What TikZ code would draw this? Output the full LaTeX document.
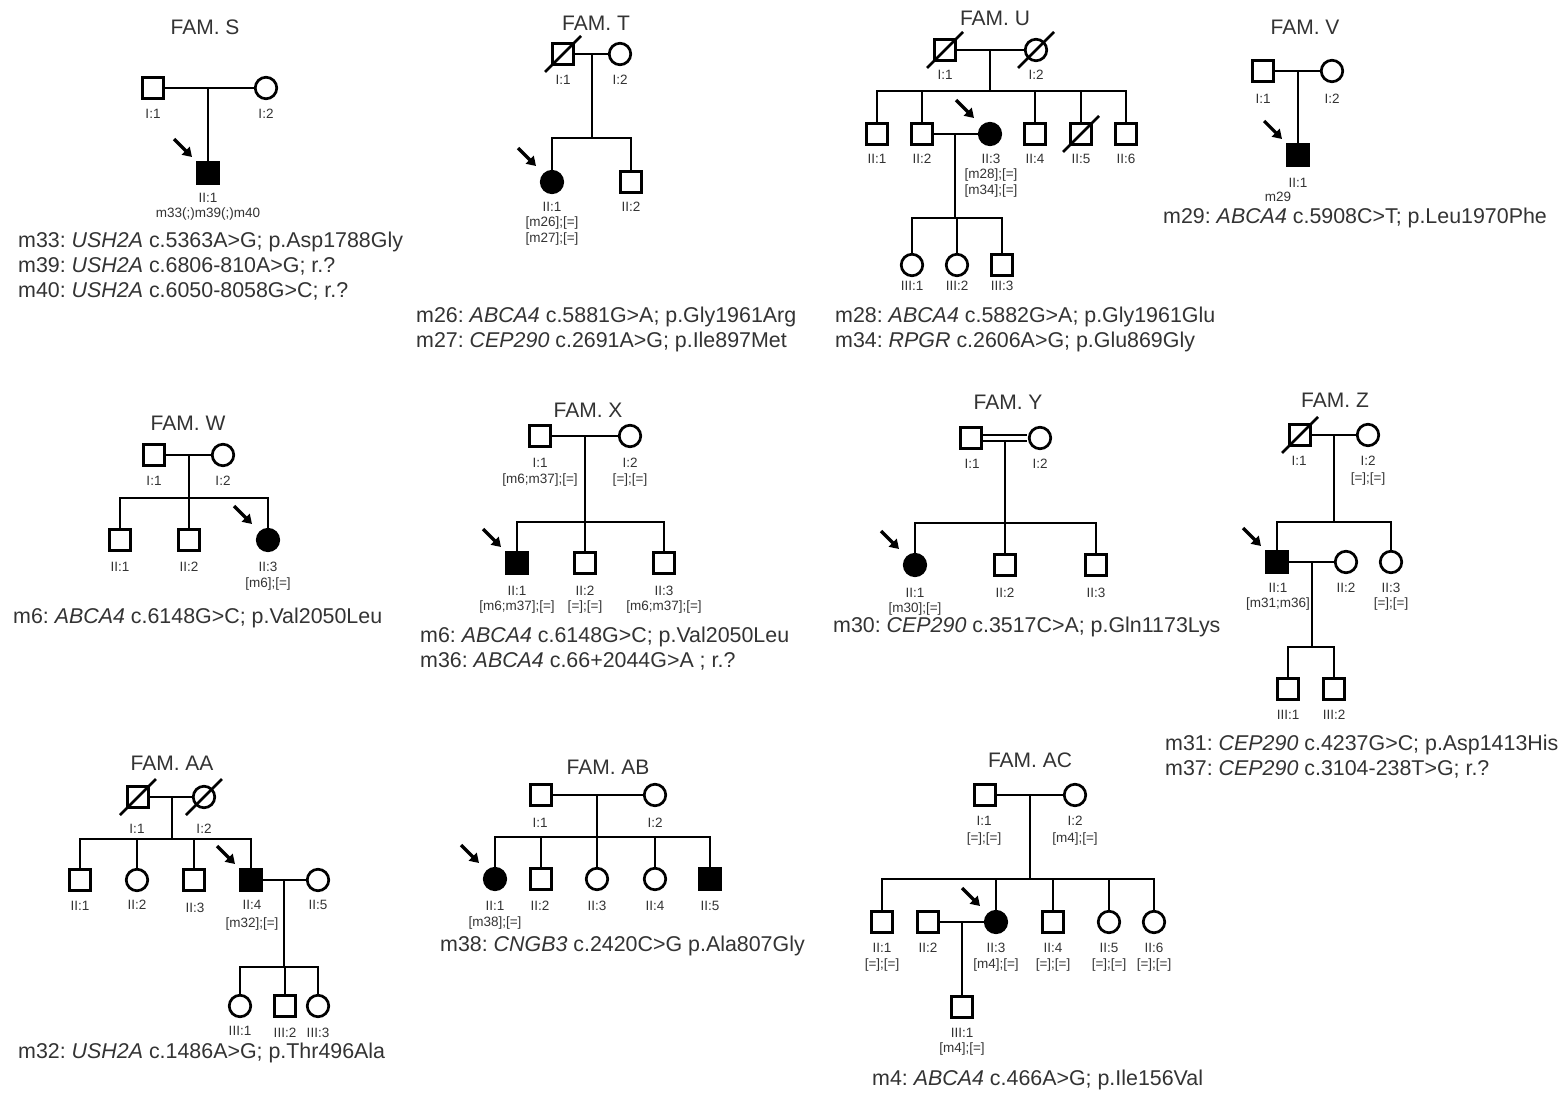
\documentclass[tikz,border=0pt]{standalone}
\usepackage{fontspec}
\setmainfont{Liberation Sans}
\usetikzlibrary{arrows.meta}
\definecolor{txt}{HTML}{333333}
\frenchspacing
\tikzset{
  ln/.style={line width=2.7pt, line join=miter},
  male/.style={draw, line width=2.7pt, rectangle, minimum size=21.5pt, inner sep=0pt, fill=white},
  female/.style={draw, line width=2.7pt, circle, minimum size=21.5pt, inner sep=0pt, fill=white},
  aff/.style={fill=black},
  lab/.style={font=\fontsize{13.5}{15}\selectfont, text=txt, inner sep=0pt, text height=9.5pt, text depth=2.5pt, yshift=-1.5pt},
  mut/.style={font=\fontsize{21.4}{25}\selectfont, text=txt, anchor=west, inner sep=0pt, text height=15pt, text depth=4pt},
  ttl/.style={font=\fontsize{21}{25}\selectfont, text=txt, inner sep=0pt, text height=15pt, text depth=0pt},
  parrow/.style={line width=3.2pt, -{Triangle[length=9pt,width=11pt]}},
}
\newcommand\lb[4]{\node[lab] (#1) at (#2,#3) {#4};}
\newcommand\mt[4]{\node[mut] (#1) at (#2,#3) {#4};}
\newcommand\dsl[1]{\draw[ln] ([shift={(-18,18)}]#1.center) -- ([shift={(18,-18)}]#1.center);}
\newcommand\prb[1]{\draw[parrow] ([shift={(-34,-34)}]#1.center) -- ([shift={(-16,-16)}]#1.center);}
\begin{document}
\begin{tikzpicture}[x=1pt,y=-1pt]
\useasboundingbox (0,0) rectangle (1560,1095);
\fill[white] (0,0) rectangle (1560,1095);

% ================= FAM. S
\node[ttl] (St) at (205,27) {FAM. S};
\node[male] (S11) at (153,88) {};
\node[female] (S12) at (266,88) {};
\coordinate (Sm) at (208,88);
\node[male,aff] (S21) at (208,173) {};
\draw[ln] (S11) -- (S12);
\draw[ln] (Sm) -- (S21);
\prb{S21}
\lb{S11l}{153}{113}{I:1}
\lb{S12l}{266}{113}{I:2}
\lb{S21l}{208}{197}{II:1}
\lb{S21g}{208}{212}{m33(;)m39(;)m40}
\mt{Sm1}{18}{242}{m33: \textit{USH2A} c.5363A>G; p.Asp1788Gly}
\mt{Sm2}{18}{267}{m39: \textit{USH2A} c.6806-810A>G; r.?}
\mt{Sm3}{18}{292}{m40: \textit{USH2A} c.6050-8058G>C; r.?}

% ================= FAM. T
\node[ttl] (Tt) at (596,23) {FAM. T};
\node[male] (T11) at (563,54) {};
\node[female] (T12) at (620,54) {};
\coordinate (Tm) at (592,54);
\coordinate (Ts) at (592,138);
\node[female,aff] (T21) at (552,182) {};
\node[male] (T22) at (631,182) {};
\draw[ln] (T11) -- (T12);
\dsl{T11}
\draw[ln] (Tm) -- (Ts);
\draw[ln] (T21) -- (T21|-Ts) -- (T22|-Ts) -- (T22);
\prb{T21}
\lb{T11l}{563}{79}{I:1}
\lb{T12l}{620}{79}{I:2}
\lb{T21l}{552}{206}{II:1}
\lb{T21g}{552}{221}{[m26];[=]}
\lb{T21h}{552}{237}{[m27];[=]}
\lb{T22l}{631}{206}{II:2}
\mt{Tm1}{416}{317}{m26: \textit{ABCA4} c.5881G>A; p.Gly1961Arg}
\mt{Tm2}{416}{342}{m27: \textit{CEP290} c.2691A>G; p.Ile897Met}

% ================= FAM. U
\node[ttl] (Ut) at (995,18) {FAM. U};
\node[male] (U11) at (945,50) {};
\node[female] (U12) at (1036,50) {};
\coordinate (Um) at (990,50);
\coordinate (Us) at (990,91);
\node[male] (U21) at (877,134) {};
\node[male] (U22) at (922,134) {};
\node[female,aff] (U23) at (990,134) {};
\node[male] (U24) at (1035,134) {};
\node[male] (U25) at (1081,134) {};
\node[male] (U26) at (1126,134) {};
\coordinate (Um2) at (955,134);
\coordinate (Us2) at (955,218);
\node[female] (U31) at (912,265) {};
\node[female] (U32) at (957,265) {};
\node[male] (U33) at (1002,265) {};
\draw[ln] (U11) -- (U12);
\dsl{U11}
\dsl{U12}
\draw[ln] (Um) -- (Us);
\draw[ln] (U21) -- (U21|-Us) -- (U26|-Us) -- (U26);
\draw[ln] (U22|-Us) -- (U22);
\draw[ln] (U24|-Us) -- (U24);
\draw[ln] (U25|-Us) -- (U25);
\dsl{U25}
\draw[ln] (U22) -- (U23);
\draw[ln] (Um2) -- (Us2);
\draw[ln] (U31) -- (U31|-Us2) -- (U33|-Us2) -- (U33);
\draw[ln] (U32|-Us2) -- (U32);
\prb{U23}
\lb{U11l}{945}{74}{I:1}
\lb{U12l}{1036}{74}{I:2}
\lb{U21l}{877}{158}{II:1}
\lb{U22l}{922}{158}{II:2}
\lb{U23l}{991}{158}{II:3}
\lb{U23g}{991}{173}{[m28];[=]}
\lb{U23h}{991}{189}{[m34];[=]}
\lb{U24l}{1035}{158}{II:4}
\lb{U25l}{1081}{158}{II:5}
\lb{U26l}{1126}{158}{II:6}
\lb{U31l}{912}{285}{III:1}
\lb{U32l}{957}{285}{III:2}
\lb{U33l}{1002}{285}{III:3}
\mt{Um1}{835}{317}{m28: \textit{ABCA4} c.5882G>A; p.Gly1961Glu}
\mt{Um3}{835}{342}{m34: \textit{RPGR} c.2606A>G; p.Glu869Gly}

% ================= FAM. V
\node[ttl] (Vt) at (1305,27) {FAM. V};
\node[male] (V11) at (1263,71) {};
\node[female] (V12) at (1332,71) {};
\coordinate (Vm) at (1298,71);
\node[male,aff] (V21) at (1298,155) {};
\draw[ln] (V11) -- (V12);
\draw[ln] (Vm) -- (V21);
\prb{V21}
\lb{V11l}{1263}{98}{I:1}
\lb{V12l}{1332}{98}{I:2}
\lb{V21l}{1298}{182}{II:1}
\lb{V21g}{1278}{196}{m29}
\mt{Vm1}{1163}{218}{m29: \textit{ABCA4} c.5908C>T; p.Leu1970Phe}

% ================= FAM. W
\node[ttl] (Wt) at (188,423) {FAM. W};
\node[male] (W11) at (154,455) {};
\node[female] (W12) at (223,455) {};
\coordinate (Wm) at (189,455);
\coordinate (Ws) at (189,498);
\node[male] (W21) at (120,540) {};
\node[male] (W22) at (189,540) {};
\node[female,aff] (W23) at (268,540) {};
\draw[ln] (W11) -- (W12);
\draw[ln] (Wm) -- (Ws);
\draw[ln] (W21) -- (W21|-Ws) -- (W23|-Ws) -- (W23);
\draw[ln] (W22|-Ws) -- (W22);
\prb{W23}
\lb{W11l}{154}{480}{I:1}
\lb{W12l}{223}{480}{I:2}
\lb{W21l}{120}{566}{II:1}
\lb{W22l}{189}{566}{II:2}
\lb{W23l}{268}{566}{II:3}
\lb{W23g}{268}{582}{[m6];[=]}
\mt{Wm1}{13}{618}{m6: \textit{ABCA4} c.6148G>C; p.Val2050Leu}

% ================= FAM. X
\node[ttl] (Xt) at (588,410) {FAM. X};
\node[male] (X11) at (540,436) {};
\node[female] (X12) at (630,436) {};
\coordinate (Xm) at (585,436);
\coordinate (Xs) at (585,522);
\node[male,aff] (X21) at (517,563) {};
\node[male] (X22) at (585,563) {};
\node[male] (X23) at (664,563) {};
\draw[ln] (X11) -- (X12);
\draw[ln] (Xm) -- (Xs);
\draw[ln] (X21) -- (X21|-Xs) -- (X23|-Xs) -- (X23);
\draw[ln] (X22|-Xs) -- (X22);
\prb{X21}
\lb{X11l}{540}{462}{I:1}
\lb{X11g}{540}{478}{[m6;m37];[=]}
\lb{X12l}{630}{462}{I:2}
\lb{X12g}{630}{478}{[=];[=]}
\lb{X21l}{517}{590}{II:1}
\lb{X21g}{517}{605}{[m6;m37];[=]}
\lb{X22l}{585}{590}{II:2}
\lb{X22g}{585}{605}{[=];[=]}
\lb{X23l}{664}{590}{II:3}
\lb{X23g}{664}{605}{[m6;m37];[=]}
\mt{Xm1}{420}{637}{m6: \textit{ABCA4} c.6148G>C; p.Val2050Leu}
\mt{Xm2}{420}{662}{m36: \textit{ABCA4} c.66+2044G>A ; r.?}

% ================= FAM. Y
\node[ttl] (Yt) at (1008,402) {FAM. Y};
\node[male] (Y11) at (971,438) {};
\node[female] (Y12) at (1040,438) {};
\coordinate (Ym) at (1005,440.5);
\coordinate (Ys) at (1005,523);
\node[female,aff] (Y21) at (915,565) {};
\node[male] (Y22) at (1005,565) {};
\node[male] (Y23) at (1096,565) {};
\draw[line width=2pt] ([yshift=2.6pt]Y11.east) -- ([yshift=2.6pt,xshift=-0.6pt]Y12.west);
\draw[line width=2pt] ([yshift=-2.6pt]Y11.east) -- ([yshift=-2.6pt,xshift=-0.6pt]Y12.west);
\draw[ln] (Ym) -- (Ys);
\draw[ln] (Y21) -- (Y21|-Ys) -- (Y23|-Ys) -- (Y23);
\draw[ln] (Y22|-Ys) -- (Y22);
\prb{Y21}
\lb{Y11l}{972}{463}{I:1}
\lb{Y12l}{1040}{463}{I:2}
\lb{Y21l}{915}{592}{II:1}
\lb{Y21g}{915}{607}{[m30];[=]}
\lb{Y22l}{1005}{592}{II:2}
\lb{Y23l}{1096}{592}{II:3}
\mt{Ym1}{833}{627}{m30: \textit{CEP290} c.3517C>A; p.Gln1173Lys}

% ================= FAM. Z
\node[ttl] (Zt) at (1335,400) {FAM. Z};
\node[male] (Z11) at (1300,435) {};
\node[female] (Z12) at (1368,435) {};
\coordinate (Zm) at (1334,435);
\coordinate (Zs) at (1334,522);
\node[male,aff] (Z21) at (1277,562) {};
\node[female] (Z22) at (1346,562) {};
\node[female] (Z23) at (1391,562) {};
\coordinate (Zm2) at (1312,562);
\coordinate (Zs2) at (1312,647);
\node[male] (Z31) at (1288,689) {};
\node[male] (Z32) at (1334,689) {};
\draw[ln] (Z11) -- (Z12);
\dsl{Z11}
\draw[ln] (Zm) -- (Zs);
\draw[ln] (Z21) -- (Z21|-Zs) -- (Z23|-Zs) -- (Z23);
\draw[ln] (Z21) -- (Z22);
\draw[ln] (Zm2) -- (Zs2);
\draw[ln] (Z31) -- (Z31|-Zs2) -- (Z32|-Zs2) -- (Z32);
\prb{Z21}
\lb{Z11l}{1299}{460}{I:1}
\lb{Z12l}{1368}{460}{I:2}
\lb{Z12g}{1368}{477}{[=];[=]}
\lb{Z21l}{1278}{587}{II:1}
\lb{Z21g}{1278}{602}{[m31;m36]}
\lb{Z22l}{1346}{587}{II:2}
\lb{Z23l}{1391}{587}{II:3}
\lb{Z23g}{1391}{602}{[=];[=]}
\lb{Z31l}{1288}{714}{III:1}
\lb{Z32l}{1334}{714}{III:2}
\mt{Zm1}{1165}{745}{m31: \textit{CEP290} c.4237G>C; p.Asp1413His}
\mt{Zm3}{1165}{770}{m37: \textit{CEP290} c.3104-238T>G; r.?}

% ================= FAM. AA
\node[ttl] (At) at (172,763) {FAM. AA};
\node[male] (A11) at (138,797) {};
\node[female] (A12) at (204,797) {};
\coordinate (Am) at (172,797);
\coordinate (As) at (172,839);
\node[male] (A21) at (80,880) {};
\node[female] (A22) at (137,880) {};
\node[male] (A23) at (194,880) {};
\node[male,aff] (A24) at (251,880) {};
\node[female] (A25) at (318,880) {};
\coordinate (Am2) at (284,880);
\coordinate (As2) at (284,967);
\node[female] (A31) at (240,1006) {};
\node[male] (A32) at (285,1006) {};
\node[female] (A33) at (318,1006) {};
\draw[ln] (A11) -- (A12);
\dsl{A11}
\dsl{A12}
\draw[ln] (Am) -- (As);
\draw[ln] (A21) -- (A21|-As) -- (A24|-As) -- (A24);
\draw[ln] (A22|-As) -- (A22);
\draw[ln] (A23|-As) -- (A23);
\draw[ln] (A24) -- (A25);
\draw[ln] (Am2) -- (As2);
\draw[ln] (A31) -- (A31|-As2) -- (A33|-As2) -- (A33);
\draw[ln] (A32|-As2) -- (A32);
\prb{A24}
\lb{A11l}{137}{828}{I:1}
\lb{A12l}{204}{828}{I:2}
\lb{A21l}{80}{905}{II:1}
\lb{A22l}{137}{904}{II:2}
\lb{A23l}{195}{907}{II:3}
\lb{A24l}{252}{904}{II:4}
\lb{A24g}{252}{922}{[m32];[=]}
\lb{A25l}{318}{904}{II:5}
\lb{A31l}{240}{1030}{III:1}
\lb{A32l}{285}{1032}{III:2}
\lb{A33l}{318}{1032}{III:3}
\mt{Am1}{18}{1053}{m32: \textit{USH2A} c.1486A>G; p.Thr496Ala}

% ================= FAM. AB
\node[ttl] (Bt) at (608,767) {FAM. AB};
\node[male] (B11) at (541,795) {};
\node[female] (B12) at (655,795) {};
\coordinate (Bm) at (597,795);
\coordinate (Bs) at (597,837);
\node[female,aff] (B21) at (495,879) {};
\node[male] (B22) at (541,879) {};
\node[female] (B23) at (597,879) {};
\node[female] (B24) at (655,879) {};
\node[male,aff] (B25) at (710,879) {};
\draw[ln] (B11) -- (B12);
\draw[ln] (Bm) -- (Bs);
\draw[ln] (B21) -- (B21|-Bs) -- (B25|-Bs) -- (B25);
\draw[ln] (B22|-Bs) -- (B22);
\draw[ln] (B23|-Bs) -- (B23);
\draw[ln] (B24|-Bs) -- (B24);
\prb{B21}
\lb{B11l}{540}{822}{I:1}
\lb{B12l}{655}{822}{I:2}
\lb{B21l}{495}{905}{II:1}
\lb{B21g}{495}{921}{[m38];[=]}
\lb{B22l}{540}{905}{II:2}
\lb{B23l}{597}{905}{II:3}
\lb{B24l}{655}{905}{II:4}
\lb{B25l}{710}{905}{II:5}
\mt{Bm1}{440}{946}{m38: \textit{CNGB3} c.2420C>G p.Ala807Gly}

% ================= FAM. AC
\node[ttl] (Ct) at (1030,760) {FAM. AC};
\node[male] (C11) at (985,795) {};
\node[female] (C12) at (1075,795) {};
\coordinate (Cm) at (1030,795);
\coordinate (Cs) at (1030,879);
\node[male] (C21) at (882,922) {};
\node[male] (C22) at (928,922) {};
\node[female,aff] (C23) at (996,922) {};
\node[male] (C24) at (1053,922) {};
\node[female] (C25) at (1109,922) {};
\node[female] (C26) at (1154,922) {};
\coordinate (Cm2) at (962,922);
\node[male] (C31) at (962,1007) {};
\draw[ln] (C11) -- (C12);
\draw[ln] (Cm) -- (Cs);
\draw[ln] (C21) -- (C21|-Cs) -- (C26|-Cs) -- (C26);
\draw[ln] (C23|-Cs) -- (C23);
\draw[ln] (C24|-Cs) -- (C24);
\draw[ln] (C25|-Cs) -- (C25);
\draw[ln] (C22) -- (C23);
\draw[ln] (Cm2) -- (C31);
\prb{C23}
\lb{C11l}{984}{820}{I:1}
\lb{C11g}{984}{837}{[=];[=]}
\lb{C12l}{1075}{820}{I:2}
\lb{C12g}{1075}{837}{[m4];[=]}
\lb{C21l}{882}{947}{II:1}
\lb{C21g}{882}{963}{[=];[=]}
\lb{C22l}{928}{947}{II:2}
\lb{C23l}{996}{947}{II:3}
\lb{C23g}{996}{963}{[m4];[=]}
\lb{C24l}{1053}{947}{II:4}
\lb{C24g}{1053}{963}{[=];[=]}
\lb{C25l}{1109}{947}{II:5}
\lb{C25g}{1109}{963}{[=];[=]}
\lb{C26l}{1154}{947}{II:6}
\lb{C26g}{1154}{963}{[=];[=]}
\lb{C31l}{962}{1032}{III:1}
\lb{C31g}{962}{1047}{[m4];[=]}
\mt{Cm1}{872}{1080}{m4: \textit{ABCA4} c.466A>G; p.Ile156Val}

\end{tikzpicture}
\end{document}
